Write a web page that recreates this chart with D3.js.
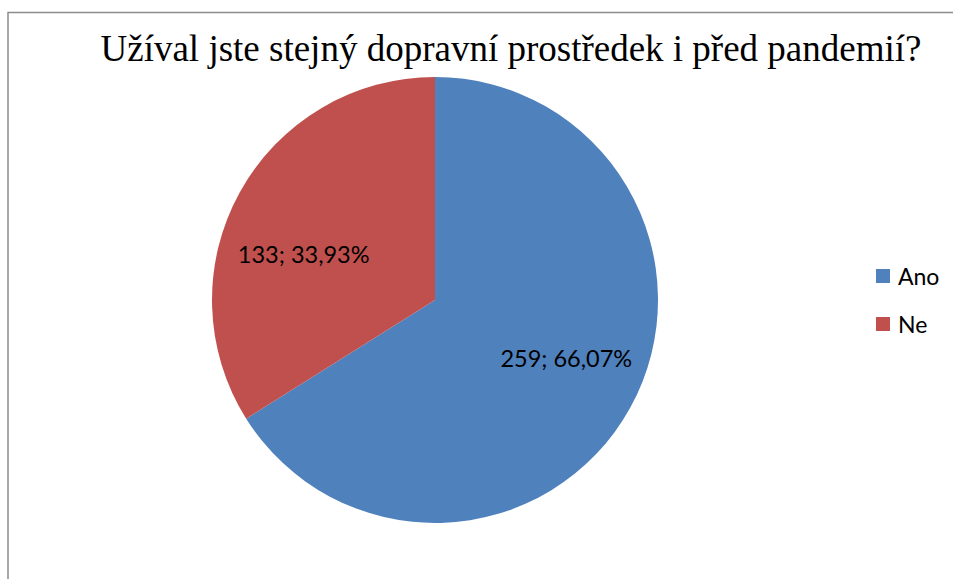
<!DOCTYPE html>
<html>
<head>
<meta charset="utf-8">
<script src="https://cdn.jsdelivr.net/npm/d3@7"></script>
<style>
  body { margin: 0; background: #fff; overflow: hidden; }
  svg { display: block; }
</style>
</head>
<body>
<svg></svg>
<script>
var categories = ["Ano", "Ne"];
var counts = [259, 133];
var percents = ["66,07%", "33,93%"];
var colours = ["#4f81bd", "#c0504d"];
var title = "Užíval jste stejný dopravní prostředek i před pandemií?";

var screen = { width: 953, height: 579 };
var svg = d3.select('svg')
            .attr('width', screen.width)
            .attr('height', screen.height);

// chart frame (only top and left edges are visible)
svg.append('path')
   .attr('d', 'M8,' + (screen.height + 10) + ' L8,12.5 L' + (screen.width + 10) + ',12.5')
   .attr('fill', 'none')
   .attr('stroke', '#8c8c8c')
   .attr('stroke-width', 1.5);

svg.append('text')
   .attr('x', 511)
   .attr('y', 61)
   .attr('text-anchor', 'middle')
   .style('font-family', '"Liberation Serif", "Times New Roman", serif')
   .style('font-size', '37px')
   .attr('fill', '#000')
   .text(title);

var cx = 435, cy = 300, radius = 223;
var data = categories.map(function(c, i) {
  return { name: c, value: counts[i], pct: percents[i], colour: colours[i] };
});

var pie = d3.pie()
            .sort(null)
            .value(function(d) { return d.value; });
var arc = d3.arc().innerRadius(0).outerRadius(radius);

var plot = svg.append('g')
              .attr('transform', 'translate(' + cx + ',' + cy + ')');

var slices = pie(data);
plot.selectAll('path')
    .data(slices)
    .enter()
    .append('path')
    .attr('d', arc)
    .attr('fill', function(d) { return d.data.colour; });

plot.selectAll('text.lbl')
    .data(slices)
    .enter()
    .append('text')
    .classed('lbl', true)
    .attr('x', function(d) {
      var a = (d.startAngle + d.endAngle) / 2;
      return Math.sin(a) * 150;
    })
    .attr('y', function(d) {
      var a = (d.startAngle + d.endAngle) / 2;
      return -Math.cos(a) * 108 + 15;
    })
    .attr('text-anchor', 'middle')
    .style('font-family', 'Lato, "Open Sans", sans-serif')
    .style('font-size', '23.5px')
    .attr('fill', '#000')
    .text(function(d) { return d.data.value + '; ' + d.data.pct; });

// legend
var legend = svg.append('g')
                .attr('transform', 'translate(876,269)');
var items = legend.selectAll('g')
                  .data(data)
                  .enter()
                  .append('g')
                  .attr('transform', function(d, i) { return 'translate(0,' + (i * 48) + ')'; });
items.append('rect')
     .attr('width', 14)
     .attr('height', 14)
     .attr('fill', function(d) { return d.colour; });
items.append('text')
     .attr('x', 22)
     .attr('y', 16)
     .style('font-family', 'Lato, "Open Sans", sans-serif')
     .style('font-size', '23px')
     .attr('fill', '#000')
     .text(function(d) { return d.name; });
</script>
</body>
</html>
